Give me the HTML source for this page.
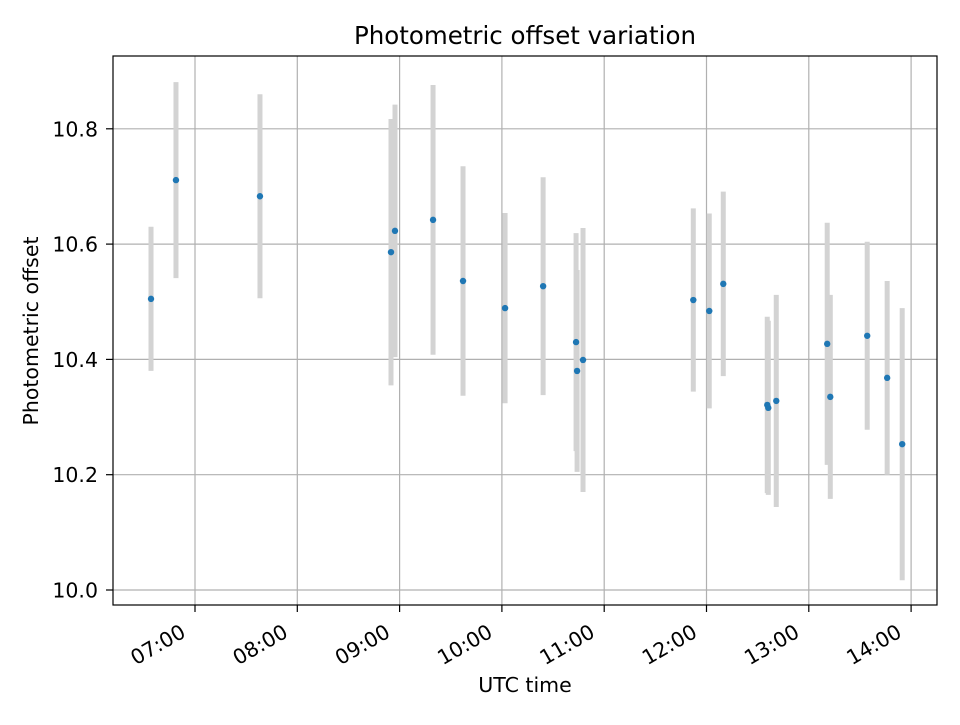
<!DOCTYPE html>
<html><head><meta charset="utf-8"><style>
body{margin:0;background:#fff;}
svg text{font-family:"DejaVu Sans","Liberation Sans",sans-serif;fill:#000;}
</style></head><body>
<svg id="chart" width="960" height="720" xmlns="http://www.w3.org/2000/svg">
<rect width="960" height="720" fill="#fff"/>
<g id="grid"></g><g id="bars"></g><g id="points"></g><g id="ticks"></g>
<rect x="113" y="56" width="824" height="549" fill="none" stroke="#000" stroke-width="1.2"/>
<text x="525" y="44" font-size="24.5" text-anchor="middle">Photometric offset variation</text>
<text x="525" y="692" font-size="20.5" text-anchor="middle">UTC time</text>
<text transform="translate(38,331) rotate(-90)" font-size="20.5" text-anchor="middle">Photometric offset</text>
</svg>
<script>
const times=[6.570,6.814,7.635,8.916,8.955,9.327,9.620,10.031,10.403,10.725,10.735,10.793,11.871,12.027,12.164,12.594,12.604,12.682,13.180,13.210,13.571,13.766,13.913];
const offsets=[10.505,10.711,10.683,10.586,10.623,10.642,10.536,10.489,10.527,10.430,10.380,10.399,10.503,10.484,10.531,10.321,10.316,10.328,10.427,10.335,10.441,10.368,10.253];
const errors=[0.125,0.170,0.177,0.231,0.219,0.234,0.199,0.165,0.189,0.189,0.175,0.229,0.159,0.169,0.160,0.153,0.151,0.184,0.210,0.177,0.163,0.168,0.236];
const xTicks=[7,8,9,10,11,12,13,14];
const xTickLabels=["07:00","08:00","09:00","10:00","11:00","12:00","13:00","14:00"];
const yTicks=[10.0,10.2,10.4,10.6,10.8];
const yTickLabels=["10.0","10.2","10.4","10.6","10.8"];
const NS="http://www.w3.org/2000/svg";
function xs(h){return 195+(h-7)*102.3;}
function ys(v){return 590-(v-10)*576.5;}
function mk(tag,attrs,parent){const e=document.createElementNS(NS,tag);for(const k in attrs)e.setAttribute(k,attrs[k]);document.getElementById(parent).appendChild(e);return e;}
xTicks.forEach((t,i)=>{
  const x=xs(t);
  const g=mk('line',{x1:x,x2:x,y1:56,y2:605,stroke:'#b0b0b0','stroke-width':1.2},'grid');
  
  
  const tk=mk('line',{x1:x,x2:x,y1:605,y2:612,stroke:'#000','stroke-width':1.2},'ticks');
  
  
  const tx=mk('text',{transform:`translate(${x-8},${636}) rotate(-30)`,'font-size':20.5,'text-anchor':'end'},'ticks');
  tx.textContent=xTickLabels[i];
  
  
});
yTicks.forEach((t,i)=>{
  const y=ys(t);
  const g=mk('line',{x1:113,x2:937,y1:y,y2:y,stroke:'#b0b0b0','stroke-width':1.2},'grid');
  
  
  const tk=mk('line',{x1:106,x2:113,y1:y,y2:y,stroke:'#000','stroke-width':1.2},'ticks');
  
  
  const tx=mk('text',{x:98,y:y+7.5,'font-size':20.5,'text-anchor':'end'},'ticks');
  tx.textContent=yTickLabels[i];
  
  
});
times.forEach((t,i)=>{
  const x=xs(t);
  const b=mk('line',{x1:x,x2:x,y1:ys(offsets[i]+errors[i]),y2:ys(offsets[i]-errors[i]),stroke:'#d3d3d3','stroke-width':5},'bars');
  
  
  const p=mk('circle',{cx:x,cy:ys(offsets[i]),r:3.2,fill:'#1f77b4'},'points');
  
  
});
</script>
</body></html>
